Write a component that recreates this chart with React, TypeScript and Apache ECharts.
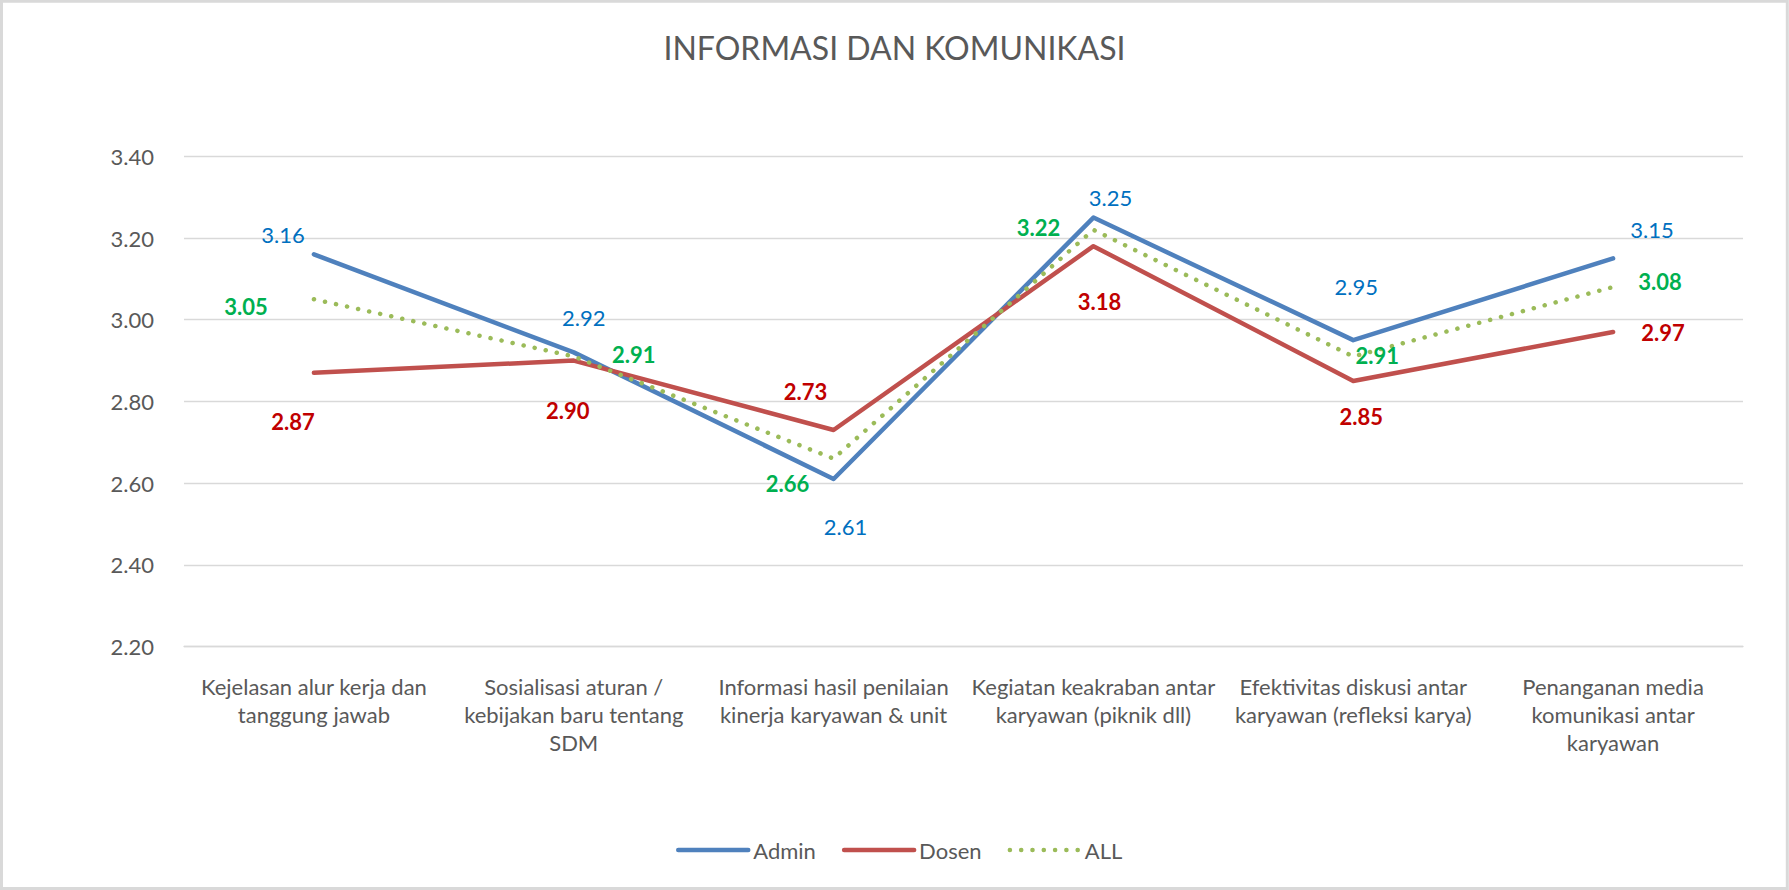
import React, { useEffect, useRef } from "react";
import * as echarts from "echarts";

const categories = [
  "Kejelasan alur kerja dan\ntanggung jawab",
  "Sosialisasi aturan /\nkebijakan baru tentang\nSDM",
  "Informasi hasil penilaian\nkinerja karyawan & unit",
  "Kegiatan keakraban antar\nkaryawan (piknik dll)",
  "Efektivitas diskusi antar\nkaryawan (refleksi karya)",
  "Penanganan media\nkomunikasi antar\nkaryawan",
];
const adminValues = [3.16, 2.92, 2.61, 3.25, 2.95, 3.15];
const dosenValues = [2.87, 2.9, 2.73, 3.18, 2.85, 2.97];
const allValues = [3.05, 2.91, 2.66, 3.22, 2.91, 3.08];
const yTicks = [2.2, 2.4, 2.6, 2.8, 3.0, 3.2, 3.4];

// label placement (style), separate from data
const adminLabelOffsets = [[-31, -20], [10, -35], [12, 47], [17, -20], [3, -54], [39, -29]];
const dosenLabelOffsets = [[-21, 49], [-6, 50], [-28, -38], [6, 55], [8, 36], [50, 1]];
const allLabelOffsets = [[-68, 7], [60, -2], [-46, 25], [-55, -2], [24, -1], [47, -6]];

const FONT = "Lato, 'Open Sans', sans-serif";

function buildData(values: number[], offsets: number[][]) {
  return values.map((v, i) => ({
    value: v,
    label: { offset: offsets[i] },
  }));
}

export default function App() {
  const ref = useRef<HTMLDivElement>(null);
  useEffect(() => {
    if (!ref.current) return;
    const chart = echarts.init(ref.current, null, { renderer: "svg" });
    const mkSeries = (
      name: string,
      values: number[],
      offsets: number[][],
      color: string,
      labelColor: string,
      bold: boolean,
      dotted: boolean
    ) => ({
      name,
      type: "line",
      data: buildData(values, offsets),
      symbol: "circle",
      symbolSize: 0.01,
      showSymbol: true,
      itemStyle: { color },
      lineStyle: dotted
        ? { color, width: 4.5, type: [0.1, 11.2], cap: "round" }
        : { color, width: 4.5, cap: "round", join: "round" },
      label: {
        show: true,
        position: "inside",
        align: "center",
        verticalAlign: "middle",
        color: labelColor,
        fontFamily: FONT,
        fontSize: 22,
        fontWeight: bold ? "bold" : "normal",
        formatter: (p: any) => Number(p.value).toFixed(2),
      },
      emphasis: { disabled: true },
      z: dotted ? 3 : 2,
    });
    chart.setOption({
      animation: false,
      backgroundColor: "#ffffff",
      title: {
        text: "INFORMASI DAN KOMUNIKASI",
        left: "center",
        top: 26,
        textStyle: {
          fontFamily: FONT,
          fontSize: 32,
          fontWeight: "normal",
          color: "#595959",
        },
      },
      graphic: [
        {
          type: "rect",
          shape: { x: 1.5, y: 1.2, width: 1785.8, height: 887.3 },
          style: { fill: "none", stroke: "#D9D9D9", lineWidth: 3 },
          silent: true,
        },
      ],
      legend: {
        top: 838,
        left: 676,
        itemWidth: 70,
        itemHeight: 14,
        itemGap: 26,
        padding: 0,
        itemStyle: { opacity: 0 },
        lineStyle: { width: 4.5, cap: "round" },
        textStyle: {
          fontFamily: FONT,
          fontSize: 22,
          color: "#595959",
          lineHeight: 24,
        },
        data: ["Admin", "Dosen", "ALL"],
      },
      grid: {
        left: 184,
        right: 46,
        top: 156.3,
        bottom: 243.5,
        containLabel: false,
      },
      xAxis: {
        type: "category",
        data: categories,
        boundaryGap: true,
        axisLine: { show: true, lineStyle: { color: "#D9D9D9", width: 1.3 } },
        axisTick: { show: false },
        axisLabel: {
          interval: 0,
          margin: 26,
          fontFamily: FONT,
          fontSize: 22,
          lineHeight: 28,
          color: "#595959",
          align: "center",
        },
      },
      yAxis: {
        type: "value",
        min: yTicks[0],
        max: yTicks[yTicks.length - 1],
        interval: 0.2,
        axisLine: { show: false },
        axisTick: { show: false },
        splitLine: { lineStyle: { color: "#D9D9D9", width: 1.3 } },
        axisLabel: {
          margin: 30,
          fontFamily: FONT,
          fontSize: 22,
          color: "#595959",
          formatter: (v: number) => v.toFixed(2),
        },
      },
      series: [
        mkSeries("Admin", adminValues, adminLabelOffsets, "#4F81BD", "#0070C0", false, false),
        mkSeries("Dosen", dosenValues, dosenLabelOffsets, "#C0504D", "#C00000", true, false),
        mkSeries("ALL", allValues, allLabelOffsets, "#9BBB59", "#00B050", true, true),
      ],
    });
    return () => chart.dispose();
  }, []);
  return (
    <div
      ref={ref}
      style={{ position: "fixed", left: 0, top: 0, width: 1789, height: 890 }}
    />
  );
}
